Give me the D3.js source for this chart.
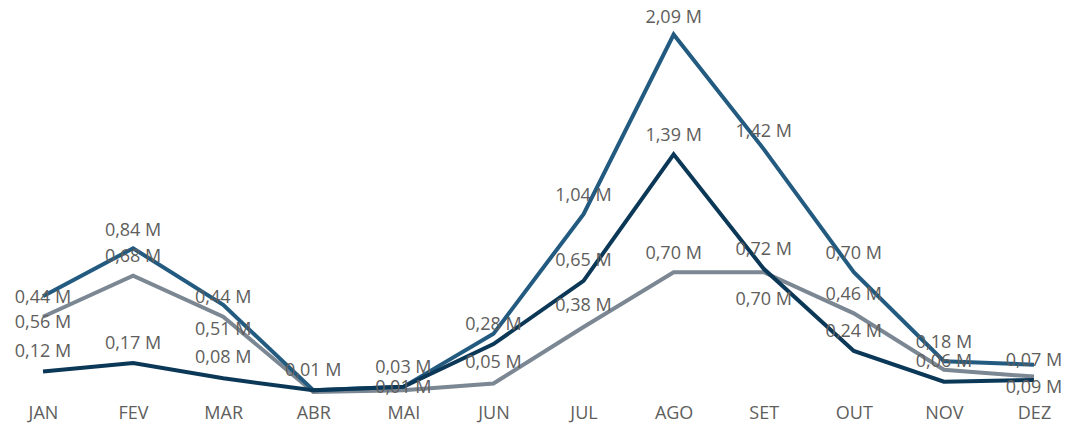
<!DOCTYPE html>
<html lang="pt">
<head>
<meta charset="utf-8">
<script src="https://cdn.jsdelivr.net/npm/d3@7"></script>
<style>
  html, body { margin: 0; padding: 0; background: #ffffff; }
  svg { display: block; font-family: "Open Sans", "Segoe UI", "DejaVu Sans", sans-serif; }
  .tick text { fill: #605e5c; font-size: 18px; font-family: "Open Sans", "Segoe UI", sans-serif; }
  .rotulo { fill: #605e5c; font-size: 18px; font-family: "Open Sans", "Segoe UI", sans-serif; }
</style>
</head>
<body>
<svg id="grafico" width="1066" height="424"></svg>
<script>
// Meses do ano
const meses = ["JAN", "FEV", "MAR", "ABR", "MAI", "JUN", "JUL", "AGO", "SET", "OUT", "NOV", "DEZ"];

// Valores mensais (milhões)
const serieAzul   = [0.56, 0.84, 0.51, 0.01, 0.03, 0.34, 1.04, 2.09, 1.42, 0.70, 0.18, 0.16];
const serieEscura = [0.12, 0.17, 0.08, 0.01, 0.03, 0.28, 0.65, 1.39, 0.72, 0.24, 0.06, 0.07];
const serieCinza  = [0.44, 0.68, 0.44, 0.00, 0.01, 0.05, 0.38, 0.70, 0.70, 0.46, 0.13, 0.09];

// Deslocamento vertical de cada rótulo em relação ao ponto (null = rótulo oculto)
const rotAzul   = [25, -19, 24, -21, -20, null, -19, -18, -18, -20, -20, null];
const rotEscura = [-21, -20, -22, null, null, -20, -21, -20, -20, -20, -21, -20];
const rotCinza  = [-20, -20, -20, null, -4, -22, -22, -20, 26, -20, null, 10];

const series = [
  { nome: "cinza",  valores: serieCinza,  rotulos: rotCinza,  cor: "#7b8793" },
  { nome: "azul",   valores: serieAzul,   rotulos: rotAzul,   cor: "#235b80" },
  { nome: "escura", valores: serieEscura, rotulos: rotEscura, cor: "#0c3858" }
];

const svg = d3.select("#grafico");

const x = d3.scalePoint().domain(meses).range([43, 1034]);
const y = d3.scaleLinear().domain([0, 2.09]).range([392, 34.5]);

const loc = d3.formatLocale({ decimal: ",", thousands: ".", grouping: [3], currency: ["R$", ""] });
const fmt = v => loc.format(".2f")(v) + " M";

// Eixo X
const eixo = svg.append("g")
  .attr("transform", `translate(0,${y(0)})`)
  .call(d3.axisBottom(x).tickSize(0).tickPadding(14))
  .attr("font-family", null)
  .attr("font-size", null);
eixo.select(".domain").remove();

// Linhas
const linha = d3.line()
  .x((d, i) => x(meses[i]))
  .y(d => y(d));

svg.append("g").selectAll("path")
  .data(series)
  .join("path")
  .attr("d", s => linha(s.valores))
  .attr("fill", "none")
  .attr("stroke", s => s.cor)
  .attr("stroke-width", 4)
  .attr("stroke-linejoin", "miter")
  .attr("stroke-linecap", "butt");

// Rótulos de dados
const rotulos = [];
series.forEach(s => {
  s.valores.forEach((v, i) => {
    if (s.rotulos[i] !== null) rotulos.push({ mes: meses[i], valor: v, dy: s.rotulos[i] });
  });
});

svg.append("g").selectAll("text")
  .data(rotulos)
  .join("text")
  .attr("class", "rotulo")
  .attr("x", d => x(d.mes))
  .attr("y", d => y(d.valor) + d.dy)
  .attr("dy", "0.35em")
  .attr("text-anchor", "middle")
  .text(d => fmt(d.valor));
</script>
</body>
</html>
